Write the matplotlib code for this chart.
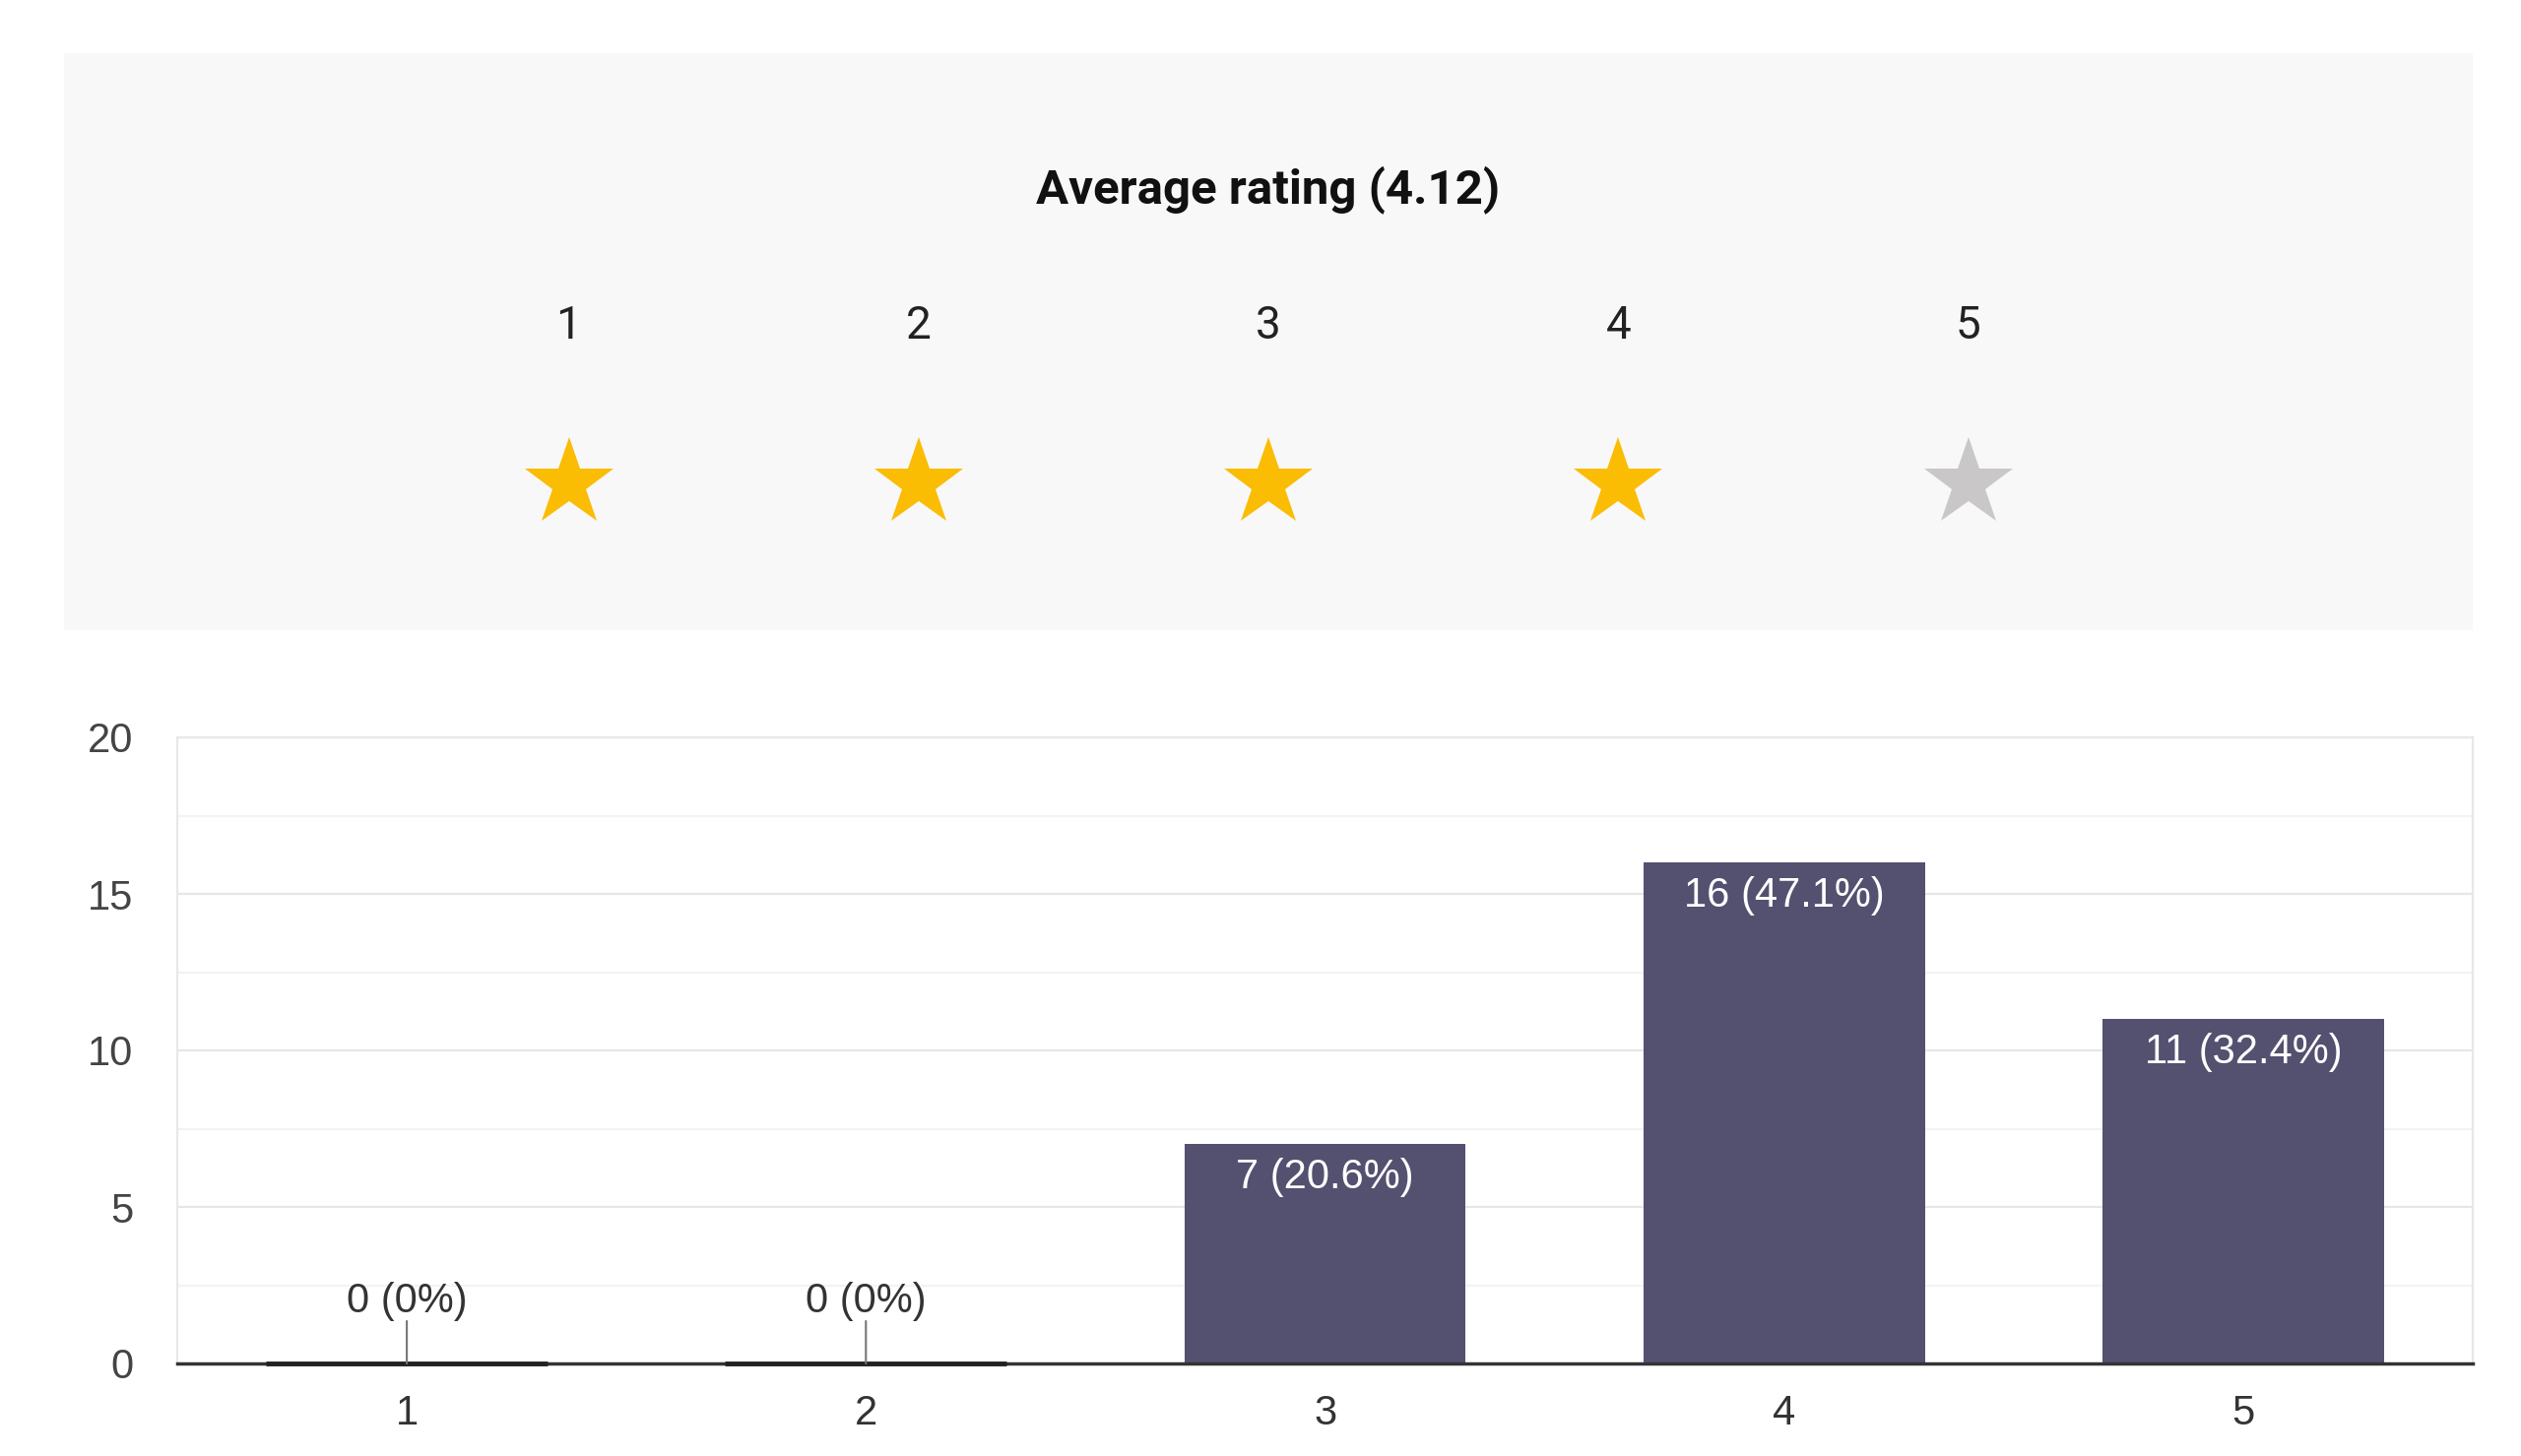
#
# python3 plot.py
#
import matplotlib.pyplot as plt
from matplotlib.ticker import MultipleLocator

###########
ratings = [1, 2, 3, 4, 5]
counts = [0, 0, 7, 16, 11]
bar_labels = ['0 (0%)', '0 (0%)', '7 (20.6%)', '16 (47.1%)', '11 (32.4%)']
star_labels = ['1', '2', '3', '4', '5']
star_filled = [True, True, True, True, False]
title = 'Average rating (4.12)'

plt.rcParams['font.family'] = ['Roboto', 'DejaVu Sans']
chart_font = ['Liberation Sans', 'DejaVu Sans']

fig = plt.figure(figsize=(25.6, 14.79), dpi=100)
fig.patch.set_facecolor('white')

# top panel with stars
axp = fig.add_axes([65/2560, (1479-640)/1479, 2446/2560, 586/1479])
axp.set_facecolor('#f8f8f9')
for s in axp.spines.values():
  s.set_visible(False)
axp.set_xticks([])
axp.set_yticks([])
w = 2446/355.25
axp.set_xlim(3 - w/2, 3 + w/2)
axp.set_ylim(0, 1)
axp.text(0.5, 0.763, title, transform=axp.transAxes, ha='center', va='center',
         fontsize=35.5, fontweight='bold', color='#111111')
for r, lab, f in zip(ratings, star_labels, star_filled):
  axp.text(r, 0.528, lab, ha='center', va='center', fontsize=33, color='#222222')
  axp.plot([r], [0.255], marker='*', markersize=68, linestyle='none',
           color='#fbbc04' if f else '#c9c7c7', markeredgewidth=0)

# bar chart
ax = fig.add_axes([180/2560, (1479-1385)/1479, 2331/2560, 636/1479])
ax.set_xlim(0.5, 5.5)
ax.set_ylim(0, 20)
ax.yaxis.set_major_locator(MultipleLocator(5))
ax.yaxis.set_minor_locator(MultipleLocator(2.5))
ax.grid(which='major', axis='y', color='#e6e6e6', linewidth=1.6)
ax.grid(which='minor', axis='y', color='#f3f3f3', linewidth=1.6)
ax.set_axisbelow(True)
ax.tick_params(which='both', length=0)
ax.tick_params(axis='y', pad=32, labelsize=30, labelcolor='#444444')
ax.tick_params(axis='x', pad=22, labelsize=30, labelcolor='#333333')
ax.set_xticks(ratings)
ax.set_xticklabels([str(r) for r in ratings])
for t in ax.get_xticklabels() + ax.get_yticklabels():
  t.set_family(chart_font)
for k in ['left', 'top', 'right']:
  ax.spines[k].set_color('#e8e8e8')
  ax.spines[k].set_linewidth(1.6)
ax.spines['bottom'].set_color('#333333')
ax.spines['bottom'].set_linewidth(2.5)

ax.bar(ratings, counts, width=0.613, color='#545070', linewidth=0.0, zorder=2)
for r, c, lab in zip(ratings, counts, bar_labels):
  if c == 0:
    ax.plot([r - 0.3065, r + 0.3065], [0, 0], color='#222222', linewidth=3.5,
            zorder=3, solid_capstyle='butt', clip_on=False)
    ax.annotate('', xy=(r, 0), xytext=(0, 31), textcoords='offset points',
                arrowprops=dict(arrowstyle='-', color='#777777', lw=1.5,
                                shrinkA=0, shrinkB=0))
    ax.annotate(lab, xy=(r, 0), xytext=(0, 45.5), textcoords='offset points',
                ha='center', va='center', fontsize=30, color='#333333',
                family=chart_font)
  else:
    ax.annotate(lab, xy=(r, c), xytext=(0, -24.5), textcoords='offset points',
                ha='center', va='center', fontsize=30, color='white', zorder=4,
                family=chart_font)

plt.savefig('out.png', dpi=100)
